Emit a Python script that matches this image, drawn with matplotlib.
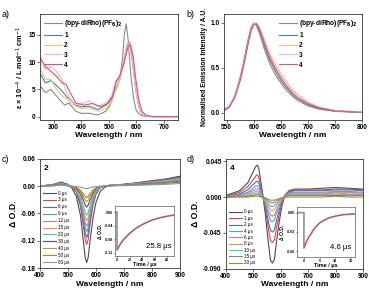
import numpy as np
import matplotlib
matplotlib.use('Agg')
import matplotlib.pyplot as plt
from matplotlib.ticker import FormatStrFormatter

plt.rcParams['font.family'] = ['Liberation Sans', 'DejaVu Sans']
plt.rcParams['axes.unicode_minus'] = False

#------------------------------
#   a) absorption spectra
#------------------------------
abs_wl_ref = [250, 270, 290, 320, 340, 355, 380, 400, 430, 460, 490, 505, 520, 530, 540, 550,
              556, 563, 570, 580, 590, 600, 615, 630, 660, 750]
abs_ref = [5.7, 4.4, 5.0, 3.2, 2.1, 2.5, 1.0, 0.6, 0.6, 0.3, 1.0, 2.1, 4.4, 5.5, 6.8, 11.0,
           15.0, 17.0, 14.0, 7.4, 3.2, 1.0, 0.25, 0.05, 0.0, 0.0]
abs_wl_1 = [250, 270, 290, 310, 330, 350, 360, 380, 400, 430, 460, 490, 510, 525, 540, 555,
            565, 573, 580, 590, 600, 610, 620, 635, 660, 750]
abs_1 = [8.0, 6.2, 6.6, 5.7, 4.7, 3.5, 3.2, 2.1, 1.8, 1.9, 1.3, 2.1, 3.5, 6.2, 7.4, 10.4,
         12.9, 13.6, 12.3, 8.0, 4.1, 1.6, 0.5, 0.1, 0.0, 0.0]
abs_wl_2 = [250, 270, 290, 310, 330, 350, 370, 400, 430, 460, 490, 510, 525, 540, 555, 568,
            576, 585, 595, 605, 615, 625, 640, 660, 750]
abs_2 = [8.9, 6.8, 6.8, 5.0, 3.8, 3.2, 2.2, 1.5, 1.6, 1.0, 1.5, 2.6, 5.3, 6.8, 9.8, 12.9,
         13.8, 11.7, 6.8, 3.2, 1.2, 0.4, 0.05, 0.0, 0.0]
abs_wl_3 = [250, 270, 290, 310, 330, 345, 360, 380, 410, 430, 460, 490, 510, 525, 540, 555,
            567, 575, 585, 595, 605, 615, 630, 660, 750]
abs_3 = [10.7, 8.6, 9.2, 8.3, 6.8, 4.7, 3.2, 2.2, 2.5, 2.9, 1.9, 2.5, 3.8, 6.5, 7.4, 10.7,
         13.5, 12.9, 10.4, 5.9, 2.6, 0.85, 0.1, 0.0, 0.0]
abs_wl_4 = [250, 270, 290, 310, 330, 345, 360, 380, 410, 440, 470, 500, 515, 527, 540, 555,
            570, 578, 588, 598, 608, 620, 635, 650, 670, 750]
abs_4 = [10.9, 9.2, 8.3, 7.4, 6.2, 5.9, 4.4, 2.5, 2.1, 2.4, 1.8, 2.5, 3.8, 6.5, 7.5, 9.8,
         12.9, 13.2, 11.1, 6.8, 3.2, 1.0, 0.25, 0.05, 0.0, 0.0]

#------------------------------
#   b) normalised emission
#------------------------------
em_wl = [545, 555, 565, 575, 580, 585, 590, 595, 600, 605, 610, 615, 620, 630, 640, 650,
         660, 670, 680, 700, 720, 750, 800]
em_ref = [0.02, 0.07, 0.19, 0.40, 0.53, 0.68, 0.83, 0.95, 1.00, 0.97, 0.89, 0.80, 0.70, 0.54,
          0.42, 0.33, 0.25, 0.19, 0.14, 0.075, 0.04, 0.015, 0.003]
em_1 = [0.02, 0.06, 0.17, 0.37, 0.50, 0.65, 0.80, 0.93, 0.99, 0.99, 0.92, 0.84, 0.74, 0.58,
        0.46, 0.36, 0.28, 0.21, 0.16, 0.09, 0.05, 0.018, 0.004]
em_2 = [0.03, 0.07, 0.18, 0.37, 0.50, 0.64, 0.79, 0.92, 0.99, 1.00, 0.96, 0.89, 0.81, 0.66,
        0.54, 0.44, 0.35, 0.27, 0.21, 0.12, 0.065, 0.025, 0.006]
em_3 = [0.03, 0.07, 0.17, 0.36, 0.49, 0.63, 0.78, 0.91, 0.98, 1.00, 0.95, 0.87, 0.78, 0.63,
        0.51, 0.41, 0.32, 0.25, 0.19, 0.11, 0.06, 0.022, 0.005]
em_4 = [0.03, 0.07, 0.17, 0.36, 0.49, 0.63, 0.78, 0.91, 0.98, 0.99, 0.94, 0.86, 0.77, 0.61,
        0.49, 0.39, 0.30, 0.23, 0.17, 0.10, 0.055, 0.02, 0.004]

series_labels = ['(bpy-diRho)(PF$_\\mathbf{6}$)$_\\mathbf{2}$', '1', '2', '3', '4']
series_colors = ['#8c8c8c', '#3d8a9a', '#f5c070', '#f0b4cc', '#d6557e']

#------------------------------
#   c) transient absorption, 2
#------------------------------
ta_wl_c = [400, 450, 475, 500, 515, 530, 545, 555, 562, 567, 572, 580, 590, 600, 615, 630,
           650, 700, 750, 800, 850, 900]
ta_delays_c = ['0 μs', '3 μs', '6 μs', '9 μs', '12 μs', '15 μs', '20 μs', '30 μs', '40 μs',
               '50 μs', '60 μs']
ta_c = [
    [0.000, 0.004, 0.009, 0.004, -0.005, -0.022, -0.065, -0.120, -0.158, -0.168, -0.158, -0.115, -0.068, -0.036, -0.012, -0.003, 0.002, 0.004, 0.008, 0.012, 0.016, 0.022],
    [0.000, 0.004, 0.008, 0.003, -0.003, -0.013, -0.045, -0.087, -0.118, -0.128, -0.118, -0.079, -0.041, -0.018, -0.004, 0.000, 0.002, 0.004, 0.007, 0.011, 0.015, 0.020],
    [0.000, 0.003, 0.007, 0.003, -0.002, -0.011, -0.040, -0.077, -0.104, -0.113, -0.104, -0.070, -0.036, -0.016, -0.003, 0.000, 0.002, 0.004, 0.007, 0.010, 0.014, 0.019],
    [0.000, 0.003, 0.006, 0.002, -0.002, -0.010, -0.035, -0.068, -0.092, -0.100, -0.092, -0.062, -0.032, -0.014, -0.003, 0.000, 0.002, 0.003, 0.006, 0.009, 0.013, 0.017],
    [0.000, 0.003, 0.006, 0.002, -0.002, -0.009, -0.031, -0.060, -0.081, -0.088, -0.081, -0.055, -0.028, -0.012, -0.003, 0.000, 0.002, 0.003, 0.006, 0.009, 0.012, 0.016],
    [0.000, 0.002, 0.005, 0.002, -0.001, -0.008, -0.027, -0.052, -0.070, -0.076, -0.070, -0.047, -0.024, -0.011, -0.002, 0.000, 0.001, 0.003, 0.005, 0.008, 0.011, 0.014],
    [0.000, 0.002, 0.005, 0.002, -0.001, -0.006, -0.022, -0.044, -0.059, -0.064, -0.059, -0.040, -0.020, -0.009, -0.002, 0.000, 0.001, 0.003, 0.005, 0.007, 0.010, 0.013],
    [0.000, 0.002, 0.004, 0.001, -0.001, -0.005, -0.016, -0.031, -0.042, -0.046, -0.042, -0.029, -0.015, -0.006, -0.001, 0.000, 0.001, 0.002, 0.004, 0.006, 0.008, 0.011],
    [0.000, 0.001, 0.003, 0.001, -0.001, -0.003, -0.012, -0.023, -0.031, -0.034, -0.031, -0.021, -0.011, -0.005, -0.001, 0.000, 0.001, 0.002, 0.003, 0.005, 0.007, 0.009],
    [0.000, 0.001, 0.003, 0.001, 0.000, -0.003, -0.009, -0.017, -0.023, -0.025, -0.023, -0.016, -0.008, -0.004, -0.001, 0.000, 0.001, 0.002, 0.003, 0.004, 0.006, 0.008],
    [0.000, 0.001, 0.002, 0.001, 0.000, -0.001, -0.002, -0.004, -0.005, -0.005, -0.005, -0.003, -0.002, -0.001, 0.000, 0.000, 0.001, 0.001, 0.002, 0.003, 0.004, 0.006],
]
ta_colors_c = ['#4d4d4d', '#f03c3c', '#3a6fcf', '#35b58a', '#d070d0', '#e0a030', '#2fd0d0',
               '#7a4060', '#a8a030', '#e06a20', '#6fa0c8']

# kinetic trace (inset c)
kin_t_c = [-3, 0, 0, 5, 10, 20, 30, 40, 50, 60, 70, 80, 90]
kin_c = [0.0, 0.0, -0.112, -0.095, -0.082, -0.063, -0.048, -0.037, -0.028, -0.021, -0.016, -0.012, -0.009]

#------------------------------
#   d) transient absorption, 4
#------------------------------
ta_wl_d = [400, 450, 480, 500, 510, 515, 520, 528, 535, 545, 555, 563, 570, 577, 585, 595,
           605, 615, 630, 650, 700, 750, 800, 850, 900]
ta_delays_d = ['0 μs', '1 μs', '2 μs', '4 μs', '6 μs', '8 μs', '10 μs', '15 μs', '20 μs']
ta_d = [
    [0.002, 0.008, 0.018, 0.032, 0.039, 0.040, 0.036, 0.018, 0.002, -0.025, -0.058, -0.080, -0.083, -0.078, -0.055, -0.030, -0.010, 0.002, 0.008, 0.010, 0.010, 0.011, 0.012, 0.011, 0.010],
    [0.001, 0.006, 0.013, 0.022, 0.027, 0.028, 0.025, 0.013, 0.001, -0.017, -0.040, -0.055, -0.057, -0.054, -0.038, -0.021, -0.007, 0.002, 0.007, 0.009, 0.009, 0.009, 0.010, 0.010, 0.009],
    [0.001, 0.004, 0.009, 0.016, 0.019, 0.020, 0.018, 0.009, 0.001, -0.013, -0.031, -0.042, -0.044, -0.041, -0.029, -0.016, -0.005, 0.002, 0.006, 0.008, 0.008, 0.008, 0.009, 0.009, 0.008],
    [0.001, 0.003, 0.006, 0.011, 0.014, 0.014, 0.013, 0.006, 0.000, -0.009, -0.022, -0.030, -0.031, -0.029, -0.020, -0.011, -0.004, 0.001, 0.005, 0.006, 0.006, 0.006, 0.007, 0.007, 0.006],
    [0.000, 0.002, 0.005, 0.008, 0.010, 0.010, 0.009, 0.005, 0.000, -0.007, -0.017, -0.023, -0.024, -0.023, -0.016, -0.009, -0.003, 0.001, 0.004, 0.005, 0.005, 0.005, 0.006, 0.006, 0.005],
    [0.000, 0.001, 0.003, 0.006, 0.007, 0.007, 0.006, 0.003, 0.000, -0.005, -0.012, -0.016, -0.017, -0.016, -0.011, -0.006, -0.002, 0.001, 0.003, 0.004, 0.004, 0.004, 0.005, 0.004, 0.004],
    [0.000, 0.001, 0.002, 0.004, 0.005, 0.005, 0.005, 0.002, 0.000, -0.004, -0.008, -0.012, -0.012, -0.011, -0.008, -0.004, -0.001, 0.001, 0.002, 0.003, 0.003, 0.003, 0.003, 0.003, 0.003],
    [0.000, 0.001, 0.001, 0.002, 0.003, 0.003, 0.003, 0.001, 0.000, -0.002, -0.005, -0.007, -0.007, -0.007, -0.005, -0.003, -0.001, 0.000, 0.002, 0.002, 0.002, 0.002, 0.002, 0.002, 0.002],
    [0.000, 0.000, 0.000, 0.001, 0.001, 0.001, 0.001, 0.000, -0.001, -0.001, -0.003, -0.004, -0.004, -0.004, -0.003, -0.002, -0.001, 0.000, 0.000, 0.000, 0.000, 0.000, 0.001, 0.000, 0.000],
]
ta_colors_d = ['#4d4d4d', '#f03c3c', '#3a6fcf', '#40b0b0', '#d070d0', '#e0a030', '#2fd0d0',
               '#b07090', '#a08a20']

# kinetic trace (inset d)
kin_t_d = [-2.2, 0, 0, 0.5, 1, 2, 3, 4, 5, 6, 8, 10, 12, 14, 16.3]
kin_d = [0.0, 0.0, -0.055, -0.049, -0.043, -0.035, -0.027, -0.021, -0.016, -0.013, -0.008,
         -0.0055, -0.0035, -0.0025, -0.002]

#------------------------------
#   Plotting
#------------------------------
fig = plt.figure(figsize=(3.69, 2.91), dpi=100)

tick_fs = 4.7
lab_fs = 6.0
frame_col = '#333333'

def style_axes(ax, fs=tick_fs, lw=0.6):
    for s in ax.spines.values():
        s.set_color(frame_col)
        s.set_linewidth(lw)
    ax.tick_params(labelsize=fs, width=0.5, length=2, pad=1, direction='out', colors=frame_col)
    for lab in ax.get_xticklabels() + ax.get_yticklabels():
        lab.set_fontweight('bold')
        lab.set_color('black')

#--------------a) absorption------------------#
ax_a = fig.add_axes([0.108, 0.588, 0.374, 0.364])
abs_sets = [(abs_wl_ref, abs_ref), (abs_wl_1, abs_1), (abs_wl_2, abs_2),
            (abs_wl_3, abs_3), (abs_wl_4, abs_4)]
for (x, y), c, l in zip(abs_sets, series_colors, series_labels):
    ax_a.plot(x, y, color=c, linewidth=0.8, label=l)
ax_a.set_xlim(250, 750)
ax_a.set_ylim(-0.6, 18.8)
ax_a.set_xticks([300, 400, 500, 600, 700])
ax_a.set_yticks([0, 5, 10, 15])
ax_a.set_xlabel('Wavelength / nm', fontsize=lab_fs, fontweight='bold', labelpad=1)
ax_a.set_ylabel('ε × 10$^{-4}$ / L mol$^{-1}$ cm$^{-1}$', fontsize=5.3, fontweight='bold', labelpad=2)
ax_a.legend(loc='upper left', bbox_to_anchor=(0.0, 1.0), frameon=False,
            prop={'size': 4.8, 'weight': 'bold'}, handlelength=2.6, labelspacing=0.42,
            handletextpad=0.4, borderaxespad=0.25)
style_axes(ax_a)

#--------------b) emission------------------#
ax_b = fig.add_axes([0.607, 0.588, 0.374, 0.364])
for y, c, l in zip([em_ref, em_1, em_2, em_3, em_4], series_colors, series_labels):
    ax_b.plot(em_wl, y, color=c, linewidth=0.8, label=l)
ax_b.set_xlim(545, 800)
ax_b.set_ylim(-0.08, 1.1)
ax_b.set_xticks([550, 600, 650, 700, 750, 800])
ax_b.set_yticks([0.0, 0.5, 1.0])
ax_b.yaxis.set_major_formatter(FormatStrFormatter('%.1f'))
ax_b.set_xlabel('Wavelength / nm', fontsize=lab_fs, fontweight='bold', labelpad=1)
ax_b.set_ylabel('Normalised Emission Intensity / A.U.', fontsize=4.9, fontweight='bold', labelpad=2)
ax_b.legend(loc='upper right', bbox_to_anchor=(1.0, 1.0), frameon=False,
            prop={'size': 4.8, 'weight': 'bold'}, handlelength=2.6, labelspacing=0.42,
            handletextpad=0.4, borderaxespad=0.25)
style_axes(ax_b)

#--------------c) TA spectra of 2------------------#
ax_c = fig.add_axes([0.108, 0.079, 0.380, 0.375])
for row, c, l in zip(ta_c, ta_colors_c, ta_delays_c):
    ax_c.plot(ta_wl_c, row, color=c, linewidth=0.8, label=l)
ax_c.set_xlim(400, 900)
ax_c.set_ylim(-0.18, 0.06)
ax_c.set_xticks([400, 500, 600, 700, 800, 900])
ax_c.set_yticks([0.06, 0.0, -0.06, -0.12, -0.18])
ax_c.yaxis.set_major_formatter(FormatStrFormatter('%.2f'))
ax_c.set_xlabel('Wavelength / nm', fontsize=lab_fs, fontweight='bold', labelpad=1)
ax_c.set_ylabel('Δ O.D.', fontsize=6.2, fontweight='bold', labelpad=2)
ax_c.text(0.03, 0.94, '2', transform=ax_c.transAxes, fontsize=6, fontweight='bold', va='top')
ax_c.legend(loc='lower left', bbox_to_anchor=(0.0, 0.0), frameon=False,
            prop={'size': 3.3}, handlelength=2.8, labelspacing=0.42, handletextpad=0.4,
            borderaxespad=0.3)
style_axes(ax_c)

ins_c = fig.add_axes([0.312, 0.120, 0.160, 0.172])
ins_c.plot(kin_t_c, kin_c, color='#9a9a9a', linewidth=1.3)
ins_c.plot(kin_t_c[2:], kin_c[2:], color='#e0302a', linewidth=0.5)
ins_c.set_xlim(-3, 91)
ins_c.set_ylim(-0.13, 0.018)
ins_c.set_xticks([0, 20, 40, 60, 80])
ins_c.set_yticks([0.0, -0.04, -0.08, -0.12])
ins_c.yaxis.set_major_formatter(FormatStrFormatter('%.2f'))
ins_c.set_xlabel('Time / μs', fontsize=4, fontweight='bold', labelpad=0)
ins_c.set_ylabel('Δ O.D.', fontsize=3.6, fontweight='bold', labelpad=1)
ins_c.text(0.95, 0.12, '25.8 μs', transform=ins_c.transAxes, fontsize=5.6, ha='right', va='bottom')
style_axes(ins_c, fs=2.6, lw=0.4)
ins_c.tick_params(length=1, pad=0.6)

#--------------d) TA spectra of 4------------------#
ax_d = fig.add_axes([0.612, 0.077, 0.372, 0.377])
for row, c, l in zip(ta_d, ta_colors_d, ta_delays_d):
    ax_d.plot(ta_wl_d, row, color=c, linewidth=0.8, label=l)
ax_d.set_xlim(400, 900)
ax_d.set_ylim(-0.09, 0.048)
ax_d.set_xticks([400, 500, 600, 700, 800, 900])
ax_d.set_yticks([0.045, 0.0, -0.045, -0.09])
ax_d.yaxis.set_major_formatter(FormatStrFormatter('%.3f'))
ax_d.set_xlabel('Wavelength / nm', fontsize=lab_fs, fontweight='bold', labelpad=1)
ax_d.set_ylabel('Δ O.D.', fontsize=6.2, fontweight='bold', labelpad=2)
ax_d.text(0.03, 0.94, '4', transform=ax_d.transAxes, fontsize=6, fontweight='bold', va='top')
ax_d.legend(loc='lower left', bbox_to_anchor=(0.0, 0.0), frameon=False,
            prop={'size': 3.3}, handlelength=2.8, labelspacing=0.3, handletextpad=0.4,
            borderaxespad=0.3)
style_axes(ax_d)

ins_d = fig.add_axes([0.805, 0.117, 0.157, 0.172])
ins_d.plot(kin_t_d, kin_d, color='#9a9a9a', linewidth=1.3)
ins_d.plot(kin_t_d[2:], kin_d[2:], color='#e0302a', linewidth=0.5)
ins_d.set_xlim(-2.2, 16.3)
ins_d.set_ylim(-0.069, 0.009)
ins_d.set_xticks([0, 5, 10, 15])
ins_d.set_yticks([0.0, -0.03, -0.06])
ins_d.yaxis.set_major_formatter(FormatStrFormatter('%.2f'))
ins_d.set_xlabel('Time / μs', fontsize=4, fontweight='bold', labelpad=0)
ins_d.set_ylabel('Δ O.D.', fontsize=3.6, fontweight='bold', labelpad=1)
ins_d.text(0.93, 0.12, '4.6 μs', transform=ins_d.transAxes, fontsize=5.6, ha='right', va='bottom')
style_axes(ins_d, fs=2.6, lw=0.4)
ins_d.tick_params(length=1, pad=0.6)

#--------------panel letters------------------#
for x, y, t in [(0.005, 0.965, 'a)'), (0.505, 0.965, 'b)'), (0.005, 0.468, 'c)'), (0.505, 0.468, 'd)')]:
    fig.text(x, y, t, fontsize=6.5, va='top')

fig.savefig('out.png', dpi=100)
